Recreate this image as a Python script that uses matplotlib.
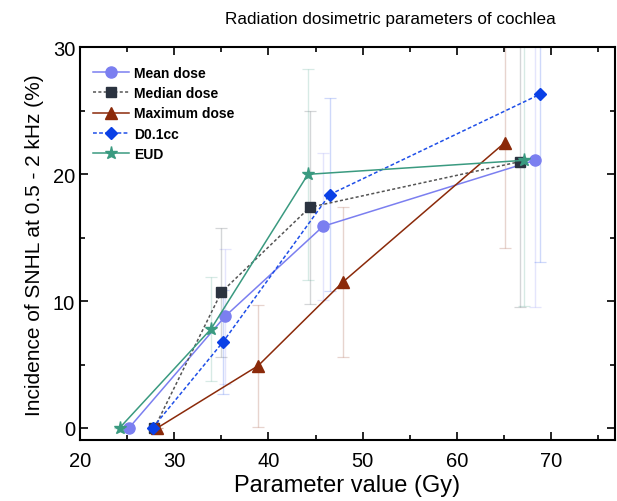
import numpy as np
import matplotlib
matplotlib.use("Agg")
import matplotlib.pyplot as plt
from matplotlib.ticker import MultipleLocator

plt.rcParams['font.family'] = ['Liberation Sans', 'DejaVu Sans']

# data
mean_x = [25.2, 35.4, 45.8, 68.3]
mean_y = [0, 8.8, 15.9, 21.1]
mean_err = [0, 5.3, 5.8, 11.6]

median_x = [27.9, 35.0, 44.4, 66.7]
median_y = [0, 10.7, 17.4, 21.0]
median_err = [0, 5.1, 7.6, 11.5]

max_x = [28.2, 38.9, 47.9, 65.1]
max_y = [0, 4.9, 11.5, 22.5]
max_err = [0, 4.8, 5.9, 8.3]

d01_x = [27.7, 35.2, 46.5, 68.8]
d01_y = [0, 6.8, 18.4, 26.3]
d01_err = [0, 4.1, 7.6, 13.2]

eud_x = [24.2, 33.9, 44.2, 67.1]
eud_y = [0, 7.8, 20.0, 21.1]
eud_err = [0, 4.1, 8.3, 11.5]

series = [
    ("Mean dose", mean_x, mean_y, mean_err, "#7b7ff0", "o", "-", 8),
    ("Median dose", median_x, median_y, median_err, "#2b3340", "s", (0, (2, 1.5)), 6.5),
    ("Maximum dose", max_x, max_y, max_err, "#8b2a0a", "^", "-", 8),
    ("D0.1cc", d01_x, d01_y, d01_err, "#0a40e6", "D", (0, (2.5, 1.5)), 6.5),
    ("EUD", eud_x, eud_y, eud_err, "#3a9a80", "*", "-", 9.5),
]
line_colors = {"Median dose": "#555555", "D0.1cc": "#1f4fe8"}

fig = plt.figure(figsize=(6.17, 5.02), dpi=100)
ax = fig.add_axes([0.1297, 0.1215, 0.8671, 0.7819])

for name, xs, ys, err, col, mk, ls, ms in series:
    ax.errorbar(xs, ys, yerr=err, fmt="none", ecolor=col, alpha=0.2,
                elinewidth=1.0, capsize=4, capthick=0.9, zorder=1)
    ax.plot(xs, ys, color=line_colors.get(name, col), linestyle=ls, lw=1.1,
            marker=mk, markersize=ms, markerfacecolor=col, markeredgecolor=col,
            label=name, zorder=3)

ax.set_xlim(20, 76.8)
ax.set_ylim(-0.95, 30)
ax.xaxis.set_major_locator(MultipleLocator(10))
ax.xaxis.set_minor_locator(MultipleLocator(5))
ax.yaxis.set_major_locator(MultipleLocator(10))
ax.yaxis.set_minor_locator(MultipleLocator(5))
ax.tick_params(which="both", direction="in", top=True, right=True, labelsize=14.5, width=1.2)
ax.tick_params(which="major", length=6)
ax.tick_params(which="minor", length=3.5)
ax.tick_params(axis="x", pad=8)
for sp in ax.spines.values():
    sp.set_linewidth(1.5)

ax.set_xlabel("Parameter value (Gy)", fontsize=17, labelpad=3)
ax.set_ylabel("Incidence of SNHL at 0.5 - 2 kHz (%)", fontsize=15, labelpad=6)
fig.text(0.633, 0.962, "Radiation dosimetric parameters of cochlea", fontsize=12.3,
         ha="center", va="center")

leg = ax.legend(loc="upper left", frameon=False, prop={"weight": "bold", "size": 10},
                handlelength=2.6, handletextpad=0.4, labelspacing=0.45,
                borderaxespad=0.5, bbox_to_anchor=(0.0, 0.985))

fig.savefig("out.png", dpi=100)
